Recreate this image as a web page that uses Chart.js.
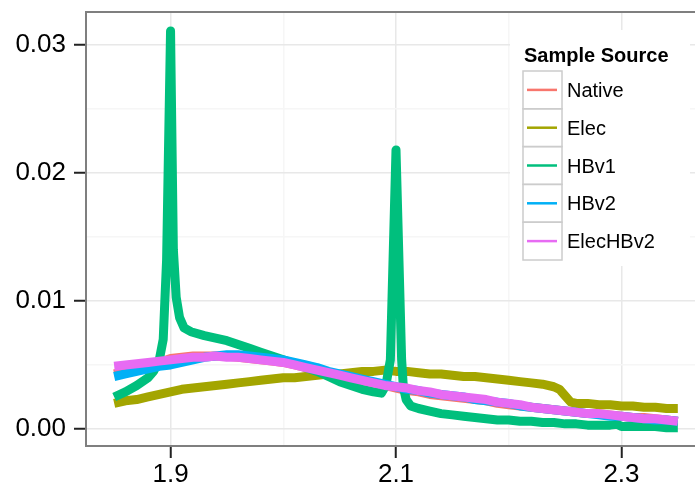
<!DOCTYPE html>
<html>
<head>
<meta charset="utf-8">
<style>
  html, body { margin: 0; padding: 0; background: #ffffff; overflow: hidden; }
  #wrap { width: 712px; height: 492px; }
</style>
<script src="https://cdn.jsdelivr.net/npm/chart.js@4/dist/chart.umd.min.js"></script>
</head>
<body>
<div id="wrap"><canvas id="chart" width="712" height="492"></canvas></div>
<script>
// ---- data ----
const legendTitle = 'Sample Source';
const seriesNames = ['Native', 'Elec', 'HBv1', 'HBv2', 'ElecHBv2'];
const seriesColors = ['#F8766D', '#A3A500', '#00BF7D', '#00B0F6', '#E76BF3'];

const xMajorTicks = [1.9, 2.1, 2.3];
const yMajorTicks = [0.00, 0.01, 0.02, 0.03];

// shared sampling positions for Native, HBv2, ElecHBv2
const xCommon = [1.85, 1.86, 1.87, 1.88, 1.89, 1.90, 1.91, 1.92, 1.93, 1.94,
                 1.95, 1.96, 1.97, 1.98, 1.99, 2.00, 2.01, 2.02, 2.03, 2.04,
                 2.05, 2.06, 2.07, 2.08, 2.09, 2.10, 2.11, 2.12, 2.13, 2.14,
                 2.15, 2.16, 2.17, 2.18, 2.19, 2.20, 2.21, 2.22, 2.23, 2.24,
                 2.25, 2.26, 2.27, 2.28, 2.29, 2.30, 2.31, 2.32, 2.33, 2.34, 2.35];

const nativeY = [0.0043, 0.0045, 0.0047, 0.0050, 0.0052, 0.0055, 0.0056, 0.0057, 0.0057, 0.0057,
                 0.0057, 0.0056, 0.0055, 0.0054, 0.0053, 0.0052, 0.0050, 0.0048, 0.0046, 0.0044,
                 0.0042, 0.0040, 0.0038, 0.0036, 0.0034, 0.0032, 0.0030, 0.0029, 0.0027, 0.0026,
                 0.0025, 0.0024, 0.0023, 0.0022, 0.0020, 0.0019, 0.0018, 0.0017, 0.0016, 0.0015,
                 0.0014, 0.0013, 0.0012, 0.0012, 0.0011, 0.0010, 0.0009, 0.0009, 0.0008, 0.0007, 0.0006];

const hbv2Y = [0.0041, 0.0043, 0.0045, 0.0047, 0.0049, 0.0050, 0.0052, 0.0054, 0.0056, 0.0057,
               0.0058, 0.0058, 0.0057, 0.0056, 0.0055, 0.0054, 0.0052, 0.0050, 0.0048, 0.0045,
               0.0043, 0.0041, 0.0039, 0.0037, 0.0035, 0.0033, 0.0031, 0.0030, 0.0028, 0.0027,
               0.0026, 0.0025, 0.0023, 0.0022, 0.0021, 0.0020, 0.0018, 0.0017, 0.0016, 0.0015,
               0.0014, 0.0013, 0.0012, 0.0011, 0.0010, 0.0010, 0.0009, 0.0008, 0.0007, 0.0007, 0.0006];

const elecHbv2Y = [0.0049, 0.0050, 0.0051, 0.0052, 0.0053, 0.0054, 0.0055, 0.0056, 0.0056, 0.0057,
                   0.0056, 0.0056, 0.0055, 0.0054, 0.0053, 0.0052, 0.0050, 0.0048, 0.0046, 0.0044,
                   0.0042, 0.0040, 0.0038, 0.0036, 0.0034, 0.0033, 0.0032, 0.0030, 0.0029, 0.0027,
                   0.0026, 0.0025, 0.0024, 0.0023, 0.0021, 0.0020, 0.0019, 0.0017, 0.0016, 0.0015,
                   0.0014, 0.0013, 0.0012, 0.0012, 0.0011, 0.0010, 0.0009, 0.0008, 0.0008, 0.0007, 0.0006];

const elecX = [1.85, 1.86, 1.87, 1.88, 1.89, 1.90, 1.91, 1.92, 1.93, 1.94,
               1.95, 1.96, 1.97, 1.98, 1.99, 2.00, 2.01, 2.02, 2.03, 2.04,
               2.05, 2.06, 2.07, 2.08, 2.09, 2.10, 2.11, 2.12, 2.13, 2.14,
               2.15, 2.16, 2.17, 2.18, 2.19, 2.20, 2.21, 2.22, 2.23, 2.24,
               2.245, 2.25, 2.255, 2.26, 2.27, 2.28, 2.29, 2.30, 2.31, 2.32,
               2.33, 2.34, 2.35];
const elecY = [0.0020, 0.0022, 0.0023, 0.0025, 0.0027, 0.0029, 0.0031, 0.0032, 0.0033, 0.0034,
               0.0035, 0.0036, 0.0037, 0.0038, 0.0039, 0.0040, 0.0040, 0.0041, 0.0042, 0.0043,
               0.0043, 0.0044, 0.0045, 0.0045, 0.0046, 0.0045, 0.0045, 0.0044, 0.0043, 0.0043,
               0.0042, 0.0041, 0.0041, 0.0040, 0.0039, 0.0038, 0.0037, 0.0036, 0.0035, 0.0033,
               0.0031, 0.0026, 0.0021, 0.0020, 0.0020, 0.0019, 0.0019, 0.0018, 0.0018, 0.0017,
               0.0017, 0.0016, 0.0016];

const hbv1X = [1.85, 1.86, 1.87, 1.88, 1.885, 1.89, 1.8935, 1.8965, 1.90, 1.9025,
               1.905, 1.908, 1.912, 1.918, 1.93, 1.94, 1.95, 1.96, 1.97, 1.98,
               1.99, 2.00, 2.01, 2.02, 2.03, 2.04, 2.05, 2.06, 2.07, 2.08,
               2.087, 2.091, 2.095, 2.10, 2.105, 2.1065, 2.109, 2.113, 2.12, 2.13,
               2.14, 2.15, 2.16, 2.17, 2.18, 2.19, 2.20, 2.21, 2.22, 2.23,
               2.24, 2.25, 2.26, 2.27, 2.28, 2.29, 2.296, 2.30, 2.31, 2.32,
               2.33, 2.34, 2.35];
const hbv1Y = [0.0025, 0.0029, 0.0034, 0.0040, 0.0045, 0.0054, 0.0070, 0.0132, 0.0311, 0.0140,
               0.0103, 0.0087, 0.0079, 0.0076, 0.0073, 0.0071, 0.0069, 0.0066, 0.0063, 0.0060,
               0.0057, 0.0054, 0.0051, 0.0048, 0.0045, 0.0041, 0.0037, 0.0034, 0.0031, 0.0029,
               0.0028, 0.0034, 0.0054, 0.0218, 0.0054, 0.0033, 0.0023, 0.0018, 0.0016, 0.0014,
               0.0012, 0.0011, 0.0010, 0.0009, 0.0008, 0.0007, 0.0007, 0.0006, 0.0006, 0.0005,
               0.0005, 0.0004, 0.0004, 0.0003, 0.0003, 0.0003, 0.00037, 0.0002, 0.0002, 0.0002,
               0.0002, 0.0001, 0.0001];

// ---- helpers ----
const pairUp = (xs, ys) => xs.map((x, i) => ({ x: x, y: ys[i] }));
const isMajor = (v, majors) => majors.some(m => Math.abs(m - v) < 1e-9);

const seriesPoints = [
  pairUp(xCommon, nativeY),
  pairUp(elecX, elecY),
  pairUp(hbv1X, hbv1Y),
  pairUp(xCommon, hbv2Y),
  pairUp(xCommon, elecHbv2Y)
];

const FONT = '"Liberation Sans", Arial, Helvetica, sans-serif';
Chart.defaults.font.family = FONT;
Chart.defaults.color = '#000000';

// panel outline drawn over the data, like a bordered plot panel
const panelBorder = {
  id: 'panelBorder',
  afterDatasetsDraw(chart) {
    const a = chart.chartArea, ctx = chart.ctx;
    ctx.save();
    ctx.strokeStyle = '#7F7F7F';
    ctx.lineWidth = 2;
    ctx.strokeRect(a.left, a.top, a.right - a.left, a.bottom - a.top);
    ctx.restore();
  }
};

// boxed key legend inside the panel
const keyLegend = {
  id: 'keyLegend',
  afterDraw(chart) {
    const ctx = chart.ctx;
    const boxX = 523, boxW = 39, rowTop = 71, rowH = 37.8;
    ctx.save();
    ctx.fillStyle = '#ffffff';
    ctx.fillRect(510, 30, 180, 236);
    ctx.fillStyle = '#000000';
    ctx.font = 'bold 20px ' + FONT;
    ctx.textAlign = 'left';
    ctx.textBaseline = 'alphabetic';
    ctx.fillText(legendTitle, 524, 62);
    ctx.font = '20px ' + FONT;
    seriesNames.forEach((name, i) => {
      const top = rowTop + i * rowH;
      const cy = top + rowH / 2;
      ctx.strokeStyle = '#CCCCCC';
      ctx.lineWidth = 1.5;
      ctx.strokeRect(boxX, top, boxW, rowH);
      ctx.strokeStyle = seriesColors[i];
      ctx.lineWidth = 2.5;
      ctx.beginPath();
      ctx.moveTo(boxX + 4, cy);
      ctx.lineTo(boxX + boxW - 5, cy);
      ctx.stroke();
      ctx.fillStyle = '#000000';
      ctx.fillText(name, 567, cy + 7);
    });
    ctx.restore();
  }
};

new Chart(document.getElementById('chart'), {
  type: 'line',
  data: {
    datasets: seriesNames.map((name, i) => ({
      label: name,
      data: seriesPoints[i],
      borderColor: seriesColors[i],
      backgroundColor: seriesColors[i],
      borderWidth: 9,
      borderJoinStyle: 'round',
      borderCapStyle: 'butt',
      pointRadius: 0,
      tension: 0,
      fill: false,
      order: seriesNames.length - i
    }))
  },
  options: {
    responsive: false,
    animation: false,
    devicePixelRatio: 1,
    layout: { padding: { left: 0, top: 12, right: 6, bottom: 0 } },
    plugins: { legend: { display: false }, tooltip: { enabled: false } },
    scales: {
      x: {
        type: 'linear',
        min: 1.825,
        max: 2.375,
        afterFit(scale) {
          scale.height = 46;
          scale.paddingLeft = 0;
          scale.paddingRight = 0;
        },
        ticks: {
          stepSize: 0.1,
          includeBounds: false,
          autoSkip: false,
          maxRotation: 0,
          padding: 1,
          font: { size: 26 },
          color: '#000000',
          callback: v => isMajor(v, xMajorTicks) ? v.toFixed(1) : ''
        },
        grid: {
          color: c => isMajor(c.tick.value, xMajorTicks) ? '#E8E8E8' : '#F6F6F6',
          lineWidth: 1.5,
          tickLength: 12,
          tickWidth: 2,
          tickColor: c => isMajor(c.tick.value, xMajorTicks) ? '#222222' : 'rgba(0,0,0,0)'
        },
        border: { display: false }
      },
      y: {
        min: -0.00133,
        max: 0.03258,
        afterFit(scale) {
          scale.width = 86;
          scale.paddingTop = 0;
          scale.paddingBottom = 0;
        },
        ticks: {
          stepSize: 0.005,
          includeBounds: false,
          autoSkip: false,
          padding: 8,
          font: { size: 26 },
          color: '#000000',
          callback: v => isMajor(v, yMajorTicks) ? v.toFixed(2) : ''
        },
        grid: {
          color: c => isMajor(c.tick.value, yMajorTicks) ? '#E8E8E8' : '#F6F6F6',
          lineWidth: 1.5,
          tickLength: 12,
          tickWidth: 2,
          tickColor: c => isMajor(c.tick.value, yMajorTicks) ? '#222222' : 'rgba(0,0,0,0)'
        },
        border: { display: false }
      }
    }
  },
  plugins: [panelBorder, keyLegend]
});
</script>
</body>
</html>
